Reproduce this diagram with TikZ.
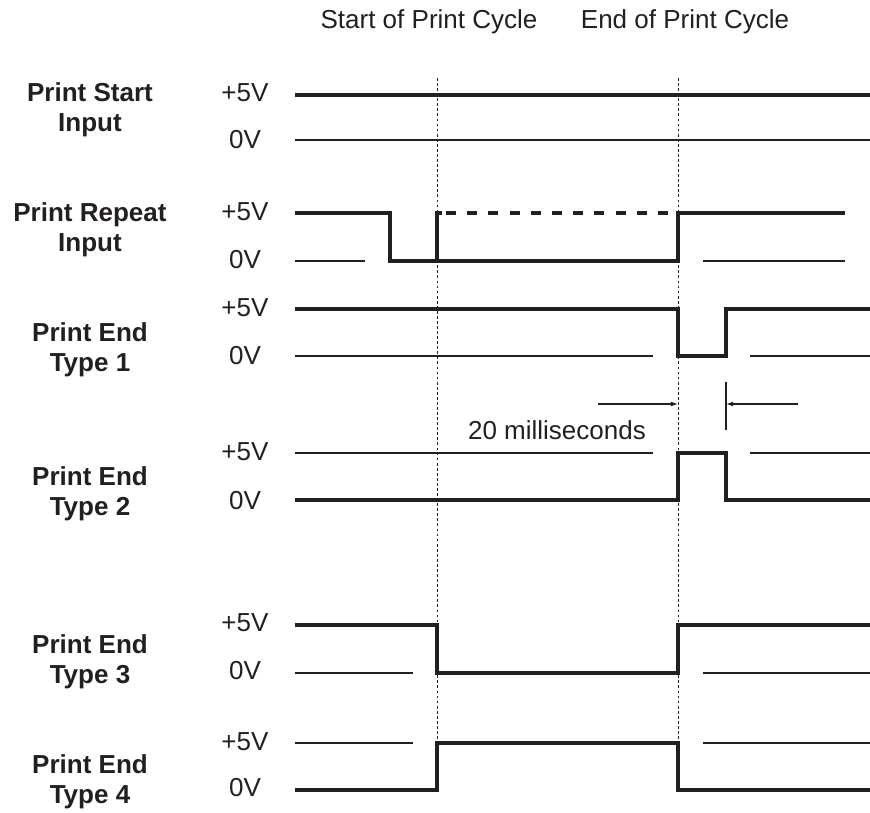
\documentclass[tikz,border=0pt]{standalone}
\usepackage{fontspec}
\setmainfont{Liberation Sans}
\usetikzlibrary{arrows.meta}
\definecolor{ink}{HTML}{231F20}
\lineskiplimit=-100pt

\begin{document}
\begin{tikzpicture}[x=0.025cm,y=-0.025cm,
        sig/.style ={ink, line width=2.4pt},
        rail/.style={ink, line width=0.75pt},
        cyc/.style ={ink, line width=0.5pt, dash pattern=on 2pt off 1.6pt},
        lvl/.style ={text=ink, inner sep=0pt, font=\fontsize{18.5}{21.3}\selectfont},
        sname/.style={lvl, align=center, font=\bfseries\fontsize{18.5}{21.3}\selectfont},
        dim/.style ={rail, -{Latex[length=5pt,width=3.4pt]}}]
        \useasboundingbox (0,0) rectangle (870,812);
% Kopfzeile und Zyklusgrenzen
        \node[lvl] (start) at (429,22) {Start of Print Cycle};
        \node[lvl] (end)   at (685,22) {End of Print Cycle};
        \coordinate (s0) at (437,78);  \coordinate (s1) at (437,745);
        \coordinate (e0) at (678,78);  \coordinate (e1) at (678,745);
        \draw[cyc] (s0) -- (s1);
        \draw[cyc] (e0) -- (e1);
% Signalnamen und Pegel
        \foreach \t/\y/\hy/\ly [count=\i] in {{Print Start\\Input}/110/93/140,
                {Print Repeat\\Input}/230/212/260, {Print End\\Type 1}/350/308/356,
                {Print End\\Type 2}/494/452/501, {Print End\\Type 3}/662/623/671,
                {Print End\\Type 4}/782/742/788}
            {\node[sname] (sig\i) at (90,\y){\t};
             \node[lvl]   (hi\i)  at (245,\hy){+5V};
             \node[lvl]   (lo\i)  at (245,\ly){0V};}
% Print Start Input
        \draw[sig]  (295,95) -- (870,95);
        \draw[rail] (295,140) -- (870,140);
% Print Repeat Input
        \draw[rail] (295,261) -- (365,261) (703,261) -- (845,261);
        \draw[sig]  (295,213) -- (390,213) -- (390,261) -- (437,261) -- (437,213) -- (442,213);
        \draw[sig, dash pattern=on 0.25cm off 0.28cm, dash phase=-0.1cm] (442,213) -- (678,213);
        \draw[sig]  (437,261) -- (678,261) -- (678,213) -- (845,213);
% Print End Type 1
        \draw[rail] (295,356) -- (653,356) (750,356) -- (870,356);
        \draw[sig]  (295,309) -- (678,309) -- (678,356) -- (726,356) -- (726,309) -- (870,309);
% 20 ms
        \coordinate (d0) at (598,404); \coordinate (d1) at (678,404);
        \coordinate (d2) at (726,404); \coordinate (d3) at (798,404);
        \coordinate (t0) at (726,382); \coordinate (t1) at (726,430);
        \draw[dim]  (d0) -- (d1);
        \draw[dim]  (d3) -- (d2);
        \draw[rail] (t0) -- (t1);
        \node[lvl] (ms) at (557,430) {20 milliseconds};
% Print End Type 2
        \draw[rail] (295,453) -- (653,453) (750,453) -- (870,453);
        \draw[sig]  (295,500) -- (678,500) -- (678,453) -- (726,453) -- (726,500) -- (870,500);
% Print End Type 3
        \draw[rail] (295,673) -- (413,673) (703,673) -- (870,673);
        \draw[sig]  (295,625) -- (437,625) -- (437,673) -- (678,673) -- (678,625) -- (870,625);
% Print End Type 4
        \draw[rail] (295,743) -- (413,743) (703,743) -- (870,743);
        \draw[sig]  (295,790) -- (437,790) -- (437,743) -- (678,743) -- (678,790) -- (870,790);
    \end{tikzpicture}
\end{document}
